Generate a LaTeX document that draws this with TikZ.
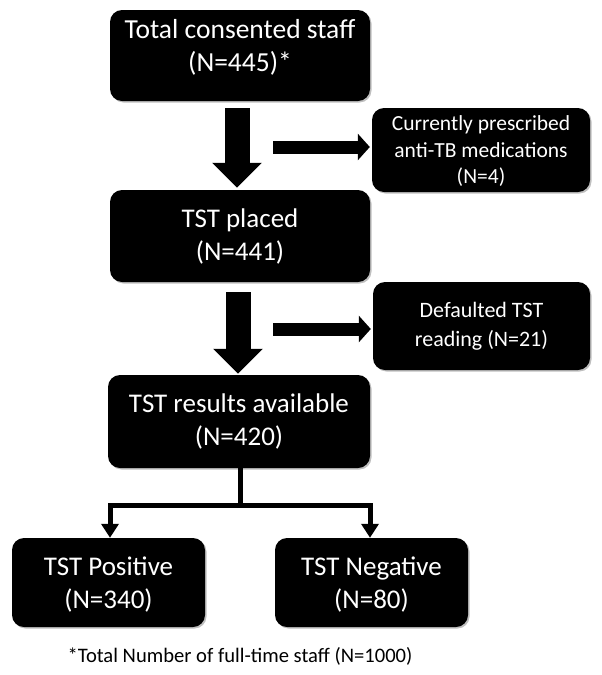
\documentclass[tikz,border=0pt]{standalone}
\usepackage{fontspec}
\setmainfont{Carlito}
\usetikzlibrary{arrows.meta,shadows}
\tikzset{
  box/.style={fill=black, rounded corners=12pt, text=white, align=center, inner sep=0pt,
    drop shadow={shadow xshift=1.5pt, shadow yshift=-1.5pt, opacity=0.25, fill=black}},
  bigtext/.style={font=\fontsize{27}{33}\selectfont},
  smalltext/.style={font=\fontsize{21.5}{26.5}\selectfont},
  bigarrow/.style={line width=25pt, -{Triangle[width=48pt,length=25pt]}},
  sidearrow/.style={line width=13pt, -{Triangle[width=26pt,length=12pt]}},
  branch/.style={line width=5pt},
  brancharrow/.style={line width=5pt, -{Triangle[width=17pt,length=14pt]}},
}
\begin{document}
\begin{tikzpicture}[x=1pt,y=-1pt]
\useasboundingbox (0,0) rectangle (602,675);
\node[box,font=\fontsize{27.5}{33}\selectfont,minimum width=260pt,minimum height=91pt,text depth=20pt] (b1) at (240,55.5) {Total consented staff\\(N=445)*};
\node[box,smalltext,minimum width=218pt,minimum height=84pt,text depth=0pt] (med) at (481,150) {Currently prescribed\\anti-TB medications\\(N=4)};
\node[box,bigtext,minimum width=260pt,minimum height=92pt] (b2) at (240,236) {TST placed\\(N=441)};
\node[box,font=\fontsize{22}{29}\selectfont,minimum width=217pt,minimum height=88pt] (def) at (481.5,326) {Defaulted TST\\reading (N=21)};
\node[box,bigtext,minimum width=262pt,minimum height=93pt] (b3) at (239,421.5) {TST results available\\(N=420)};
\node[box,bigtext,minimum width=193pt,minimum height=89pt,text depth=0pt] (pos) at (108.5,582.5) {TST Positive\\(N=340)};
\node[box,bigtext,minimum width=193pt,minimum height=89pt,text depth=0pt] (neg) at (371.5,582.5) {TST Negative\\(N=80)};
\node[font=\fontsize{20.6}{24}\selectfont, inner sep=0pt] (foot) at (240,656) {*Total Number of full-time staff (N=1000)};

\draw[bigarrow, shorten <=7pt, shorten >=2pt] ([xshift=-3pt]b1.south) -- ([xshift=-3pt]b2.north);
\draw[bigarrow, shorten <=10pt, shorten >=1pt] ([xshift=-2pt]b2.south) -- ([xshift=-1pt]b3.north);

\coordinate (s1) at (273,147);
\coordinate (s2) at (273,329);
\draw[sidearrow, shorten >=2pt] (s1) -- (s1 -| med.west);
\draw[sidearrow, shorten >=2pt] (s2) -- (s2 -| def.west);

\coordinate (j) at (240,505);
\draw[branch] ([xshift=1pt]b3.south) -- (j);
\draw[brancharrow] (j) -| ([xshift=1.5pt]pos.north);
\draw[brancharrow] (j) -| ([xshift=-1.5pt]neg.north);
\end{tikzpicture}
\end{document}
